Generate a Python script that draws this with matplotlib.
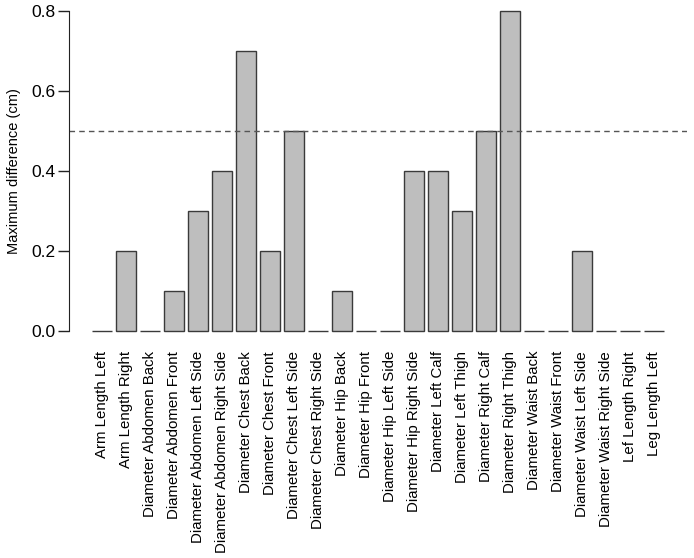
import matplotlib
matplotlib.use('Agg')
import matplotlib.pyplot as plt
import numpy as np

categories = ['Arm Length Left', 'Arm Length Right', 'Diameter Abdomen Back',
              'Diameter Abdomen Front', 'Diameter Abdomen Left Side',
              'Diameter Abdomen Right Side', 'Diameter Chest Back',
              'Diameter Chest Front', 'Diameter Chest Left Side',
              'Diameter Chest Right Side', 'Diameter Hip Back', 'Diameter Hip Front',
              'Diameter Hip Left Side', 'Diameter Hip Right Side', 'Diameter Left Calf',
              'Diameter Left Thigh', 'Diameter Right Calf', 'Diameter Right Thigh',
              'Diameter Waist Back', 'Diameter Waist Front', 'Diameter Waist Left Side',
              'Diameter Waist Right Side', 'Lef Length Right', 'Leg Length Left']
max_diff = [0.0, 0.2, 0.0, 0.1, 0.3, 0.4, 0.7, 0.2, 0.5, 0.0, 0.1, 0.0,
            0.0, 0.4, 0.4, 0.3, 0.5, 0.8, 0.0, 0.0, 0.2, 0.0, 0.0, 0.0]
threshold = 0.5
yticks = [0.0, 0.2, 0.4, 0.6, 0.8]

plt.rcParams['font.family'] = ['Liberation Sans', 'DejaVu Sans']

fig = plt.figure(figsize=(6.94, 5.58), dpi=100)
ax = fig.add_axes([0.0994, 0.3835, 0.8906, 0.6201])

# R barplot style positions: width 1, space 0.2
x = 0.7 + 1.2 * np.arange(len(categories))
ax.bar(x, max_diff, width=1.0, color='#bebebe', edgecolor='#3a3a3a', linewidth=1.0)
ax.axhline(threshold, color='#555555', linewidth=1.0, linestyle=(0, (4, 3)))

lo, hi = 0.2, x[-1] + 0.5
ext = (hi - lo) * 0.04
ax.set_xlim(lo - ext, hi + ext)
ax.set_ylim(-0.032, 0.832)

ax.set_xticks(x)
ax.set_xticklabels(categories, rotation=90, fontsize=10.8)
ax.tick_params(axis='x', length=0, pad=5)

ax.set_yticks(yticks)
ax.set_yticklabels(['%.1f' % v for v in yticks], fontsize=12.5)
ax.tick_params(axis='y', length=8, width=1, direction='out', pad=2, color='#222222')

for s in ['top', 'right', 'bottom']:
    ax.spines[s].set_visible(False)
ax.spines['left'].set_bounds(0, 0.8)
ax.spines['left'].set_color('#222222')

ax.set_ylabel('Maximum difference (cm)', fontsize=10.5)
ax.yaxis.set_label_coords(-0.078, 0.5)

fig.savefig('out.png', dpi=100)
